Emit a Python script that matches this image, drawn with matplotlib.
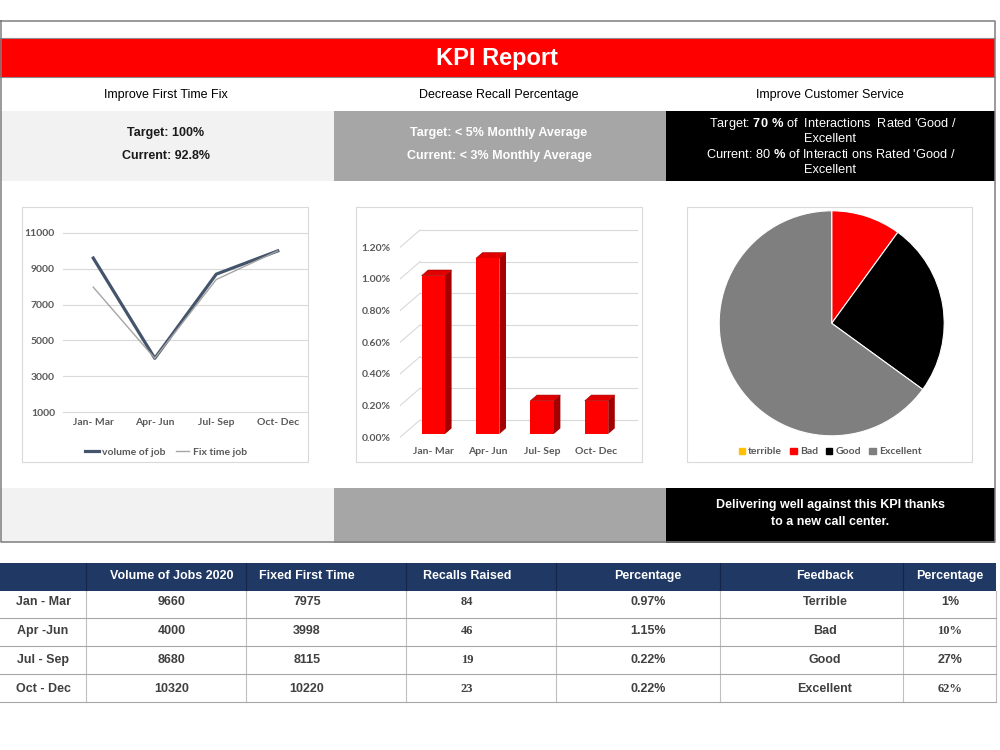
import matplotlib
matplotlib.use("Agg")
import matplotlib.pyplot as plt
from matplotlib.patches import Rectangle, Polygon, Patch
import numpy as np

plt.rcParams['font.family'] = ['Liberation Sans', 'DejaVu Sans']
plt.rcParams['mathtext.fontset'] = 'custom'
plt.rcParams['mathtext.rm'] = 'Liberation Sans'
plt.rcParams['mathtext.bf'] = 'Liberation Sans:bold'

# ---- data ----
quarters = ["Jan- Mar", "Apr- Jun", "Jul- Sep", "Oct- Dec"]
volume_of_job = [9600, 4000, 8700, 10000]
fix_time_job = [7975, 4000, 8400, 10000]
recall_pct = [1.00, 1.11, 0.21, 0.21]
feedback_labels = ["terrible", "Bad", "Good", "Excellent"]
feedback_share = [0, 10, 25, 65]
feedback_colors = ["#ffc000", "#ff0000", "#000000", "#7f7f7f"]

table_header = ["", "Volume of Jobs 2020", "Fixed First Time", "Recalls Raised",
                "Percentage", "Feedback", "Percentage"]
table_rows = ["Jan - Mar", "Apr -Jun", "Jul - Sep", "Oct - Dec"]
jobs_2020 = ["9660", "4000", "8680", "10320"]
fixed_first = ["7975", "3998", "8115", "10220"]
recalls_raised = ["84", "46", "19", "23"]
recall_percentage = ["0.97%", "1.15%", "0.22%", "0.22%"]
feedback_names = ["Terrible", "Bad", "Good", "Excellent"]
feedback_percentage = ["1%", "10%", "27%", "62%"]

W, H = 1000, 750
fig = plt.figure(figsize=(10, 7.5), dpi=100)
bg = fig.add_axes([0, 0, 1, 1])
bg.set_xlim(0, W)
bg.set_ylim(H, 0)
bg.axis('off')


def px_axes(left, top, right, bottom):
    return fig.add_axes([left / W, 1 - bottom / H, (right - left) / W, (bottom - top) / H])


def style_ticks(ax):
    for t in ax.get_xticklabels() + ax.get_yticklabels():
        t.set_fontfamily('Lato')
        t.set_fontweight('bold')
        t.set_fontsize(7.5)
        t.set_color('#595959')


chart_font = dict(family='Lato', weight='bold', size=7.5)

# ---- dashboard background ----
bg.add_patch(Rectangle((0, 38), 995, 39, color='#ff0000', lw=0))
bg.plot([0, 995], [38, 38], color='#8c8c8c', lw=0.8)
bg.plot([0, 995], [77, 77], color='#8c8c8c', lw=0.8)
bg.text(497, 58, "KPI Report", color='white', fontsize=17, fontweight='bold',
        ha='center', va='center')

cols = [(0, 334, '#f2f2f2'), (334, 666, '#a6a6a6'), (666, 995, '#000000')]
for x0, x1, c in cols:
    bg.add_patch(Rectangle((x0, 111), x1 - x0, 70, color=c, lw=0))
    bg.add_patch(Rectangle((x0, 488), x1 - x0, 55, color=c, lw=0))

bg.text(166, 95, "Improve First Time Fix", fontsize=9, ha='center', va='center')
bg.text(499, 95, "Decrease Recall Percentage", fontsize=9, ha='center', va='center')
bg.text(830, 95, "Improve Customer Service", fontsize=9, ha='center', va='center')

bg.text(166, 133, "Target: 100%", fontsize=9, fontweight='bold', color='#1a1a1a',
        ha='center', va='center')
bg.text(166, 156, "Current: 92.8%", fontsize=9, fontweight='bold', color='#1a1a1a',
        ha='center', va='center')
bg.text(499, 133, "Target: < 5% Monthly Average", fontsize=9, fontweight='bold',
        color='white', ha='center', va='center')
bg.text(499, 156, "Current: < 3% Monthly Average", fontsize=9, fontweight='bold',
        color='white', ha='center', va='center')
bg.text(833, 124, r"Target: $\mathbf{70\ \%}$ of  Interactions  Rated 'Good /", fontsize=9.2,
        color='white', ha='center', va='center')
bg.text(830, 139, "Excellent", fontsize=9.2, color='white', ha='center', va='center')
bg.text(831, 155, r"Current: 80 $\mathbf{\%}$ of Interacti ons Rated 'Good /", fontsize=9.2,
        color='white', ha='center', va='center')
bg.text(830, 170, "Excellent", fontsize=9.2, color='white', ha='center', va='center')

bg.text(830, 505, "Delivering well against this KPI thanks", fontsize=9, fontweight='bold',
        color='white', ha='center', va='center')
bg.text(830, 522, "to a new call center.", fontsize=9, fontweight='bold',
        color='white', ha='center', va='center')

# chart panels
for x0, x1 in [(22, 308), (356, 642), (687, 972)]:
    bg.add_patch(Rectangle((x0, 207), x1 - x0, 255, fc='white', ec='#d9d9d9', lw=0.8))

# outer frame
bg.plot([0.8, 995, 995, 0.8, 0.8], [21, 21, 542, 542, 21], color='#7f7f7f', lw=1.1, zorder=5)

# ---- line chart ----
ax1 = px_axes(62.5, 225, 308.5, 416)
ax1.plot(range(len(quarters)), volume_of_job, color='#44546a', lw=2.3, label='volume of job')
ax1.plot(range(len(quarters)), fix_time_job, color='#a5a5a5', lw=1, label='Fix time job')
ax1.set_xlim(-0.5, 3.5)
ax1.set_ylim(1000 - 4 / 17.9 * 1000, 11000 + 8 / 17.9 * 1000)
ax1.set_yticks(range(1000, 11001, 2000))
ax1.set_xticks(range(len(quarters)))
ax1.set_xticklabels(quarters)
ax1.grid(axis='y', color='#d9d9d9', lw=0.8)
ax1.set_axisbelow(True)
ax1.tick_params(length=0)
ax1.tick_params(axis='y', pad=5.4)
ax1.tick_params(axis='x', pad=1.5)
for s in ax1.spines.values():
    s.set_visible(False)
ax1.patch.set_alpha(0)
style_ticks(ax1)
ax1.legend(loc='center', bbox_to_anchor=(166 / W, 1 - 452 / H), bbox_transform=fig.transFigure,
           ncol=2, frameon=False, prop=chart_font, labelcolor='#595959', handlelength=1.3,
           columnspacing=1.0, handletextpad=0.3)

# ---- 3D style bar chart ----
DX, DY = 20 / 54.4, 17.3 / 158.3      # depth offsets (category units, percent units)
d_bar, d_len = 0.19, 0.33
x_left, x_right = -0.542, 3.446
ax2 = px_axes(400, 225, 645, 445)
ax2.set_xlim(x_left, x_left + 245 / 54.4)
ax2.set_ylim((437.3 - 445) / 158.3, (437.3 - 225) / 158.3)
grid_vals = np.arange(0, 1.21, 0.2)
for v in grid_vals:
    ax2.plot([x_left, x_left + DX], [v, v + DY], color='#d9d9d9', lw=0.8)
    ax2.plot([x_left + DX, x_right + DX], [v + DY, v + DY], color='#d9d9d9', lw=0.8)
bw = 0.43
xs = np.arange(len(quarters)) + d_bar * DX
base = d_bar * DY
ax2.bar(xs, recall_pct, bottom=base, width=bw, color='#ff0000', zorder=3)
for x, v in zip(xs, recall_pct):
    xr, xl = x + bw / 2, x - bw / 2
    top = base + v
    ax2.add_patch(Polygon([(xr, base), (xr, top), (xr + d_len * DX, top + d_len * DY),
                           (xr + d_len * DX, base + d_len * DY)],
                          closed=True, fc='#a50000', ec='none', zorder=2))
    ax2.add_patch(Polygon([(xl, top), (xr, top), (xr + d_len * DX, top + d_len * DY),
                           (xl + d_len * DX, top + d_len * DY)],
                          closed=True, fc='#e00000', ec='#a00000', lw=0.4, zorder=2))
ax2.set_yticks(grid_vals)
ax2.set_yticklabels([f"{v:.2f}%" for v in grid_vals])
ax2.set_xticks(xs)
ax2.set_xticklabels(quarters)
ax2.tick_params(length=0)
ax2.tick_params(axis='y', pad=6.7)
ax2.tick_params(axis='x', pad=1.5)
for s in ax2.spines.values():
    s.set_visible(False)
ax2.patch.set_alpha(0)
style_ticks(ax2)

# ---- pie chart ----
ax3 = px_axes(719.2, 210.8, 944.2, 435.8)
ax3.pie(feedback_share, colors=feedback_colors, startangle=90, counterclock=False,
        wedgeprops=dict(edgecolor='white', linewidth=0.8))
ax3.set_xlim(-1, 1)
ax3.set_ylim(-1, 1)
ax3.set_aspect('equal')
handles = [Patch(color=c, label=l) for c, l in zip(feedback_colors, feedback_labels)]
ax3.legend(handles=handles, loc='center', bbox_to_anchor=(830 / W, 1 - 452 / H),
           bbox_transform=fig.transFigure, ncol=4, frameon=False, prop=chart_font,
           labelcolor='#595959', handlelength=0.6, handleheight=0.6, columnspacing=0.8,
           handletextpad=0.3)

# ---- table ----
col_edges = [0, 86, 246, 406, 556, 720, 903, 996]
col_text_x = [43, 172, 307, 467, 648, 825, 950]
row_edges = [591, 618, 646, 674, 702]
row_text_y = [602, 631, 660, 689]
bg.add_patch(Rectangle((0, 563), 996, 28, color='#1f3864', lw=0))
for xe in col_edges[1:-1]:
    bg.plot([xe, xe], [563, 591], color='#15264a', lw=0.8)
for x, h in zip(col_text_x, table_header):
    bg.text(x, 576, h, color='white', fontsize=9, fontweight='bold', ha='center', va='center')
for xe in col_edges[1:]:
    bg.plot([xe, xe], [591, 702], color='#bfbfbf', lw=0.8)
for ye in row_edges[1:]:
    bg.plot([0, 996], [ye, ye], color='#a6a6a6', lw=0.8)

columns = [table_rows, jobs_2020, fixed_first, recalls_raised, recall_percentage,
           feedback_names, feedback_percentage]
for ci, (x, col) in enumerate(zip(col_text_x, columns)):
    for ri, (y, val) in enumerate(zip(row_text_y, col)):
        fam = ['Liberation Sans']
        if ci == 3 or (ci == 6 and ri in (1, 3)):
            fam = ['Liberation Serif']
        bg.text(x, y, val, fontsize=9, fontweight='bold', color='#404040', family=fam,
                ha='center', va='center')

fig.savefig("out.png", dpi=100)
